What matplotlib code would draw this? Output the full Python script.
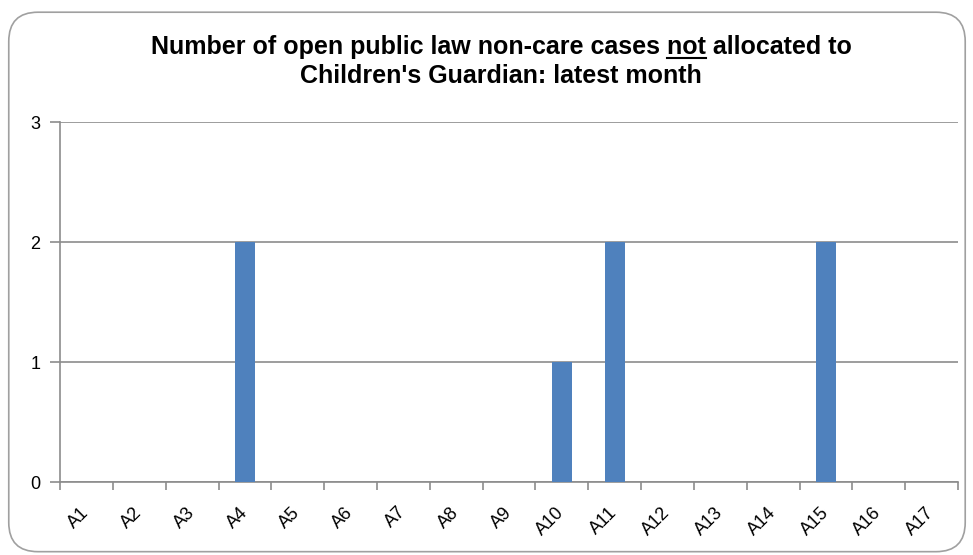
import matplotlib
matplotlib.use("Agg")
import matplotlib.pyplot as plt
from matplotlib.patches import FancyBboxPatch
from matplotlib.lines import Line2D
import numpy as np

areas = ["A%d" % i for i in range(1, 18)]
cases = [0, 0, 0, 2, 0, 0, 0, 0, 0, 1, 2, 0, 0, 0, 2, 0, 0]

title1_pre = "Number of open public law non-care cases "
title1_ul = "not"
title1_post = " allocated to"
title2 = "Children's Guardian: latest month"

plt.rcParams['font.family'] = ['Liberation Sans', 'DejaVu Sans']

fig = plt.figure(figsize=(9.73, 5.55), dpi=100)
fig.patch.set_facecolor('white')

# rounded chart border
border = FancyBboxPatch((0.009, 0.006), 0.983, 0.972,
                        boxstyle="round,pad=0,rounding_size=0.03",
                        transform=fig.transFigure, fill=False,
                        edgecolor='#a0a0a0', linewidth=1.2, mutation_aspect=973/555)
fig.patches.append(border)

ax = fig.add_axes([0.0617, 0.1315, 0.9229, 0.6485])
x = np.arange(len(areas))
ax.bar(x, cases, width=0.38, color='#4f81bd', zorder=3)

ax.set_xlim(-0.5, len(areas) - 0.5)
ax.set_ylim(0, 3)
ax.set_yticks([0, 1, 2, 3])
ax.yaxis.grid(True, color='#8c8c8c', linewidth=1.2, zorder=0)

for s in ['top', 'right']:
    ax.spines[s].set_visible(False)
for s in ['left', 'bottom']:
    ax.spines[s].set_color('#8c8c8c')
    ax.spines[s].set_linewidth(1.2)

ax.set_xticks(x)
ax.set_xticklabels(areas, rotation=45, ha='right', va='center', rotation_mode='anchor', fontsize=13)
ax.tick_params(axis='x', length=0, pad=20)
ax.set_xticks(np.arange(-0.5, len(areas)), minor=True)
ax.tick_params(axis='x', which='minor', length=6, color='#8c8c8c', width=1.2)
ax.tick_params(axis='y', length=7, color='#8c8c8c', width=1.2, pad=7, labelsize=13)

# title, with "not" underlined
fs = 18
y1, y2 = 0.9027, 0.851
full1 = title1_pre + title1_ul + title1_post
t1 = fig.text(0.515, y1, full1, ha='center', va='baseline', fontsize=fs, fontweight='bold')
fig.text(0.515, y2, title2, ha='center', va='baseline', fontsize=fs, fontweight='bold')

fig.canvas.draw()
r = fig.canvas.get_renderer()
bb = t1.get_window_extent(r)
tmp = fig.text(0, 0, title1_pre, fontsize=fs, fontweight='bold')
w_pre = tmp.get_window_extent(r).width
tmp.set_text(title1_pre + title1_ul)
w_ul = tmp.get_window_extent(r).width
tmp.remove()
W, H = fig.bbox.width, fig.bbox.height
x0 = (bb.x0 + w_pre) / W
x1 = (bb.x0 + w_ul) / W
yl = y1 - 4 / H
fig.add_artist(Line2D([x0, x1], [yl, yl], transform=fig.transFigure, color='black', linewidth=1.5))

fig.savefig("out.png", dpi=100)
